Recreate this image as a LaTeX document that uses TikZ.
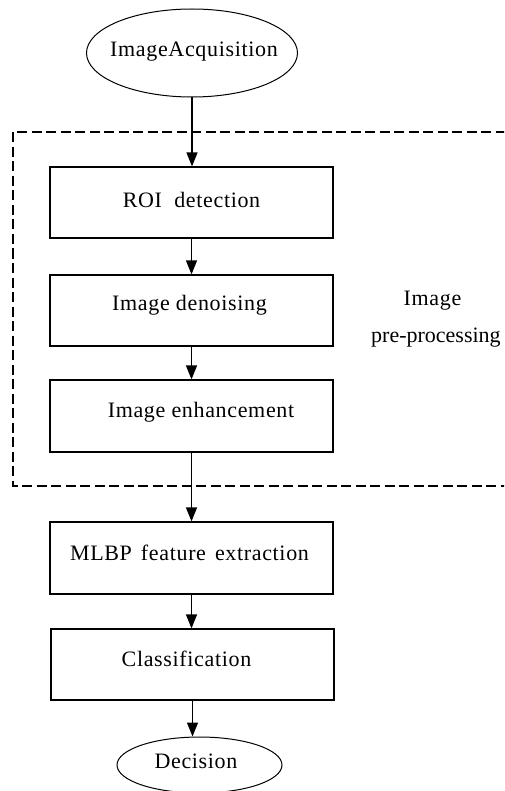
\documentclass[tikz,border=0pt]{standalone}
\usepackage{fontspec}
\setmainfont{Liberation Serif}[LetterSpace=3]
\usetikzlibrary{shapes.geometric,arrows.meta}
\tikzset{
  x=1pt, y=-1pt,
  procbox/.style={draw, line width=1.2pt, rectangle, inner sep=0pt},
  oval/.style={draw, line width=1pt, ellipse, inner sep=0pt},
  txt/.style={font=\fontsize{22}{26}\selectfont, inner sep=0pt, anchor=base},
  flow/.style={line width=1.3pt, -{Triangle[length=14pt,width=11pt]}},
  grp/.style={line width=1.3pt, dash pattern=on 10pt off 4.5pt}
}
\begin{document}
\begin{tikzpicture}
\clip (0,0) rectangle (504,791);
\fill[white] (0,0) rectangle (504,791);

% group frame
\coordinate (g1) at (520,132);
\coordinate (g2) at (13,132);
\coordinate (g3) at (13,486);
\coordinate (g4) at (520,486);
\draw[grp] (g1) -- (g2) -- (g3) -- (g4);

% shapes
\node[oval, minimum width=211pt, minimum height=88pt] (acq) at (192,53) {};
\node[procbox, minimum width=283pt, minimum height=71pt] (roi) at (191.5,202.5) {};
\node[procbox, minimum width=283pt, minimum height=71pt] (den) at (191.5,310.5) {};
\node[procbox, minimum width=283pt, minimum height=72pt] (enh) at (191.5,416) {};
\node[procbox, minimum width=283pt, minimum height=72pt] (mlbp) at (191.5,558) {};
\node[procbox, minimum width=283pt, minimum height=71pt] (cls) at (192.5,664.5) {};
\node[oval, minimum width=165pt, minimum height=56pt] (dec) at (199.5,765) {};

% texts
\node[txt] (acqT) at (194,57) {ImageAcquisition};
\node[txt] (roiT) at (191.5,208) {ROI\ \ detection};
\node[txt] (denT) at (189.5,310) {Image denoising};
\node[txt] (enhT) at (201,417) {Image enhancement};
\node[txt] (mlbpT) at (189.5,560) {MLBP\hspace{9pt}feature\hspace{9pt}extraction};
\node[txt] (clsT) at (186.5,666) {Classification};
\node[txt] (decT) at (196,768) {Decision};
\node[txt] (grpT1) at (432.5,305) {Image};
\node[txt, anchor=base west] (grpT2) at (371,342) {\addfontfeature{LetterSpace=0}pre-processing};

% connectors
\draw[flow] (acq.south) -- (acq.south |- roi.north);
\draw[flow] (roi.south) -- (den.north);
\draw[flow] (den.south) -- (enh.north);
\draw[flow] (enh.south) -- (mlbp.north);
\draw[flow] (mlbp.south) -- (mlbp.south |- cls.north);
\draw[flow] (cls.south) -- (cls.south |- dec.north);
\end{tikzpicture}
\end{document}
